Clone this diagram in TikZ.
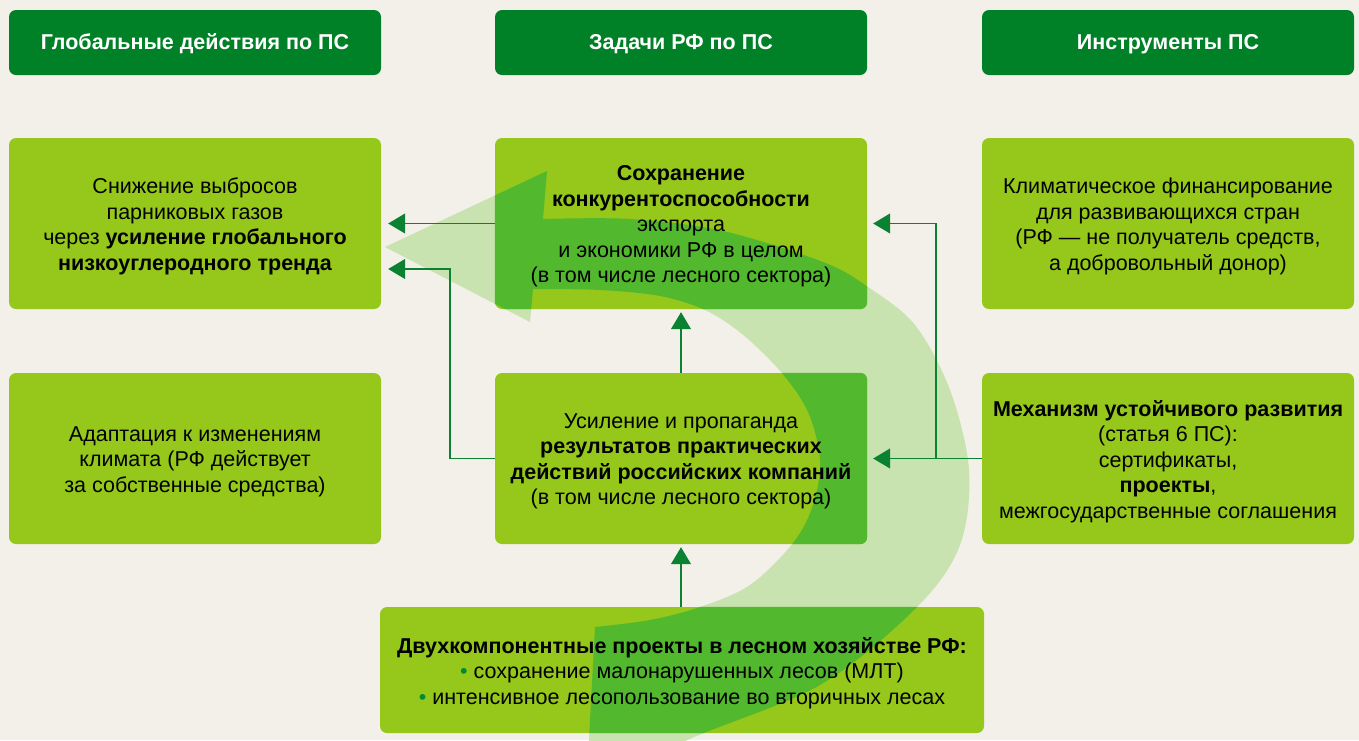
\documentclass[tikz,border=0pt]{standalone}
\usepackage{fontspec}
\setmainfont{Liberation Sans}
\usetikzlibrary{arrows.meta}
\definecolor{bgc}{RGB}{243,240,233}
\definecolor{hdrc}{RGB}{0,129,39}
\definecolor{limec}{RGB}{149,200,26}
\definecolor{bandlight}{RGB}{200,227,176}
\definecolor{banddark}{RGB}{82,185,46}
\definecolor{linec}{RGB}{10,130,50}
\definecolor{bulletc}{RGB}{0,140,50}
\begin{document}
\begin{tikzpicture}[x=1pt,y=-1pt,
  hdr/.style={fill=hdrc, rounded corners=7pt, minimum width=372pt, minimum height=65pt, inner sep=0pt,
    align=center, text=white, font=\fontsize{21.5}{25.5}\selectfont\bfseries},
  hdrtxt/.style={text=white, font=\fontsize{21.5}{25.5}\selectfont\bfseries, inner sep=0pt, yshift=-1.5pt},
  box/.style={fill=limec, rounded corners=7pt, minimum width=372pt, minimum height=171pt, inner sep=0pt},
  txt/.style={align=center, font=\fontsize{21.5}{25.5}\selectfont, inner sep=0pt, text=black, yshift=-3pt},
  conn/.style={draw=linec, line width=1.2pt, -{Triangle[length=17pt,width=20pt]}},
  bandpath/.style={insert path={(385,247) -- (547,171) -- (543,219)
     -- plot[smooth,tension=0.55] coordinates {(543,219) (630,219) (723,231) (823,262) (868,287) (915,325) (950,390) (969,470) (960,545) (917,607) (820,685) (683,742) (586,795)}
     -- plot[smooth,tension=0.55] coordinates {(595,627) (650,620) (700,607) (750,585) (793,543) (813,505) (820,460) (808,412) (781,372) (742,334) (705,310) (660,296) (600,290) (533,289)}
     -- (530,322) -- cycle}}
  ]
\fill[bgc] (0,0) rectangle (1359,740);
\useasboundingbox (0,0) rectangle (1359,740);

% light band (over background)
\fill[bandlight, bandpath];

% headers
\node[hdr] (h1) at (195,42.5) {};
\node[hdr] (h2) at (681,42.5) {};
\node[hdr] (h3) at (1168,42.5) {};
\node[hdrtxt] (h1t) at (h1.center) {Глобальные действия по ПС};
\node[hdrtxt] (h2t) at (h2.center) {Задачи РФ по ПС};
\node[hdrtxt] (h3t) at (h3.center) {Инструменты ПС};

% boxes
\node[box] (l1) at (195,223.5) {};
\node[box] (l2) at (195,458.5) {};
\node[box] (m1) at (681,223.5) {};
\node[box] (m2) at (681,458.5) {};
\node[box] (r1) at (1168,223.5) {};
\node[box] (r2) at (1168,458.5) {};
\node[box, minimum width=604pt, minimum height=126pt] (bb) at (682,670) {};

% dark band (over boxes)
\begin{scope}
  \clip[rounded corners=7pt] (m1.north west) rectangle (m1.south east)
        (m2.north west) rectangle (m2.south east)
        (bb.north west) rectangle (bb.south east);
  \fill[banddark, bandpath];
\end{scope}

% connectors
\coordinate (j1) at (450,269);
\coordinate (j2) at (936,458.5);
\draw[conn, shorten >=7pt] (m1.west) -- (l1.east);
\draw[conn, shorten >=7pt] (m2.west) -| (j1) -- (j1 -| l1.east);
\draw[conn, shorten >=3pt] (m2.north) -- (m1.south);
\draw[conn, shorten >=3pt] (bb.north -| m2.south) -- (m2.south);
\draw[conn, shorten >=6pt] (r2.west) -- (m2.east);
\draw[conn, shorten >=6pt] (j2) |- (m1.east);

% texts
\node[txt] (l1t) at (l1.center) {Снижение выбросов\\парниковых газов\\через \textbf{усиление глобального}\\\textbf{низкоуглеродного тренда}};
\node[txt] (l2t) at (l2.center) {Адаптация к изменениям\\климата (РФ действует\\за собственные средства)};
\node[txt] (m1t) at (m1.center) {\textbf{Сохранение}\\\textbf{конкурентоспособности}\\экспорта\\и экономики РФ в целом\\(в том числе лесного сектора)};
\node[txt] (m2t) at (m2.center) {Усиление и пропаганда\\\textbf{результатов практических}\\\textbf{действий российских компаний}\\(в том числе лесного сектора)};
\node[txt] (r1t) at (r1.center) {Климатическое финансирование\\для развивающихся стран\\(РФ — не получатель средств,\\а добровольный донор)};
\node[txt] (r2t) at (r2.center) {\textbf{Механизм устойчивого развития}\\(статья 6 ПС):\\сертификаты,\\\textbf{проекты},\\межгосударственные соглашения};
\node[txt] (bbt) at (bb.center) {\textbf{Двухкомпонентные проекты в лесном хозяйстве РФ:}\\{\color{bulletc}•} сохранение малонарушенных лесов (МЛТ)\\{\color{bulletc}•} интенсивное лесопользование во вторичных лесах};
\end{tikzpicture}
\end{document}
